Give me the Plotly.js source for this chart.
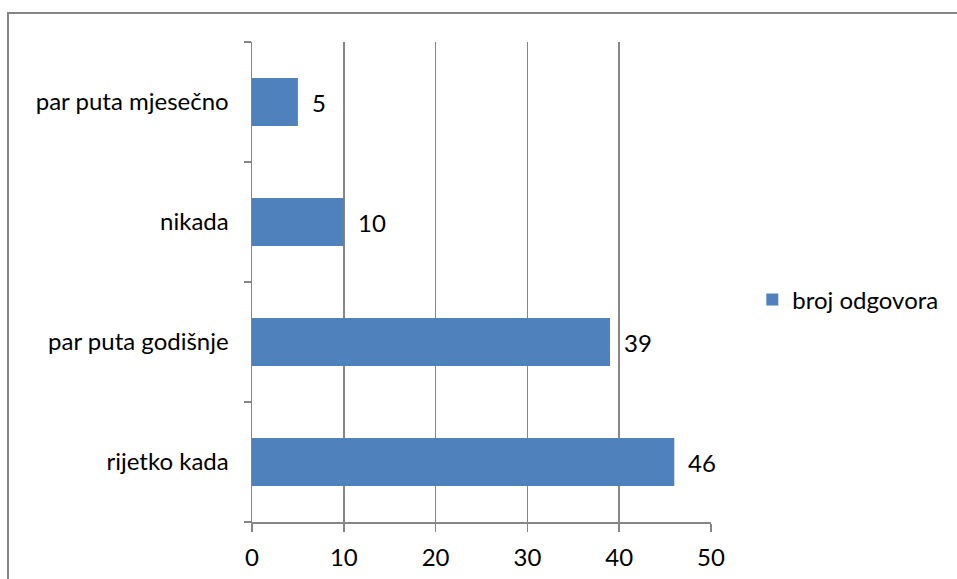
<!DOCTYPE html>
<html>
<head>
<meta charset="utf-8">
<script src="https://cdn.plot.ly/plotly-3.0.1.min.js"></script>
<style>
html,body{margin:0;padding:0;background:#fff;}
#wrap{position:relative;width:957px;height:579px;}
#chart{width:957px;height:579px;}
#border{position:absolute;left:7px;top:12px;width:960px;height:580px;border-left:2px solid #868686;border-top:2px solid #868686;pointer-events:none;}
</style>
</head>
<body>
<div id="wrap"><div id="chart"></div><div id="border"></div></div>
<script>
const categories = ["rijetko kada", "par puta godišnje", "nikada", "par puta mjesečno"];
const values = [46, 39, 10, 5];
const seriesName = "broj odgovora";
const xTicks = [0, 10, 20, 30, 40, 50];

const font = "Lato, 'Open Sans', sans-serif";
const grey = "#868686";
const fs = 24;

const trace = {
  type: "bar",
  orientation: "h",
  x: values,
  y: categories,
  name: seriesName,
  marker: {color: "#4F81BD", line: {width: 0}},
  showlegend: true,
  hoverinfo: "none"
};

const annotations = values.map((v, i) => ({
  x: v, y: categories[i], xref: "x", yref: "y",
  text: String(v), showarrow: false, xanchor: "left", xshift: 12,
  font: {family: font, size: fs, color: "#000"}
}));

const layout = {
  width: 957, height: 579,
  margin: {l: 252, r: 246, t: 42, b: 57, pad: 0},
  paper_bgcolor: "#fff", plot_bgcolor: "#fff",
  bargap: 0.6,
  font: {family: font, size: fs, color: "#000"},
  xaxis: {
    range: [0, 50], tickvals: xTicks, ticktext: xTicks.map(String),
    showgrid: true, gridcolor: grey, gridwidth: 1.5,
    showline: true, linecolor: grey, linewidth: 1.5,
    ticks: "outside", ticklen: 8, tickcolor: grey, tickwidth: 1.5,
    ticklabelstandoff: 6,
    zeroline: false, fixedrange: true,
    tickfont: {family: font, size: fs, color: "#000"}
  },
  yaxis: {
    type: "category", categoryorder: "array", categoryarray: categories,
    tickson: "boundaries",
    showgrid: false, showline: true, linecolor: grey, linewidth: 1.5,
    ticks: "outside", ticklen: 7, tickcolor: grey, tickwidth: 1.5,
    ticklabelstandoff: 17,
    zeroline: false, fixedrange: true,
    tickfont: {family: font, size: fs, color: "#000"}
  },
  legend: {
    x: 1.09, y: 0.4625, xanchor: "left", yanchor: "middle",
    font: {family: font, size: fs, color: "#000"},
    bgcolor: "rgba(0,0,0,0)", itemwidth: 30
  },
  annotations: annotations
};

Plotly.newPlot("chart", [trace], layout, {displayModeBar: false, staticPlot: true});
</script>
</body>
</html>
